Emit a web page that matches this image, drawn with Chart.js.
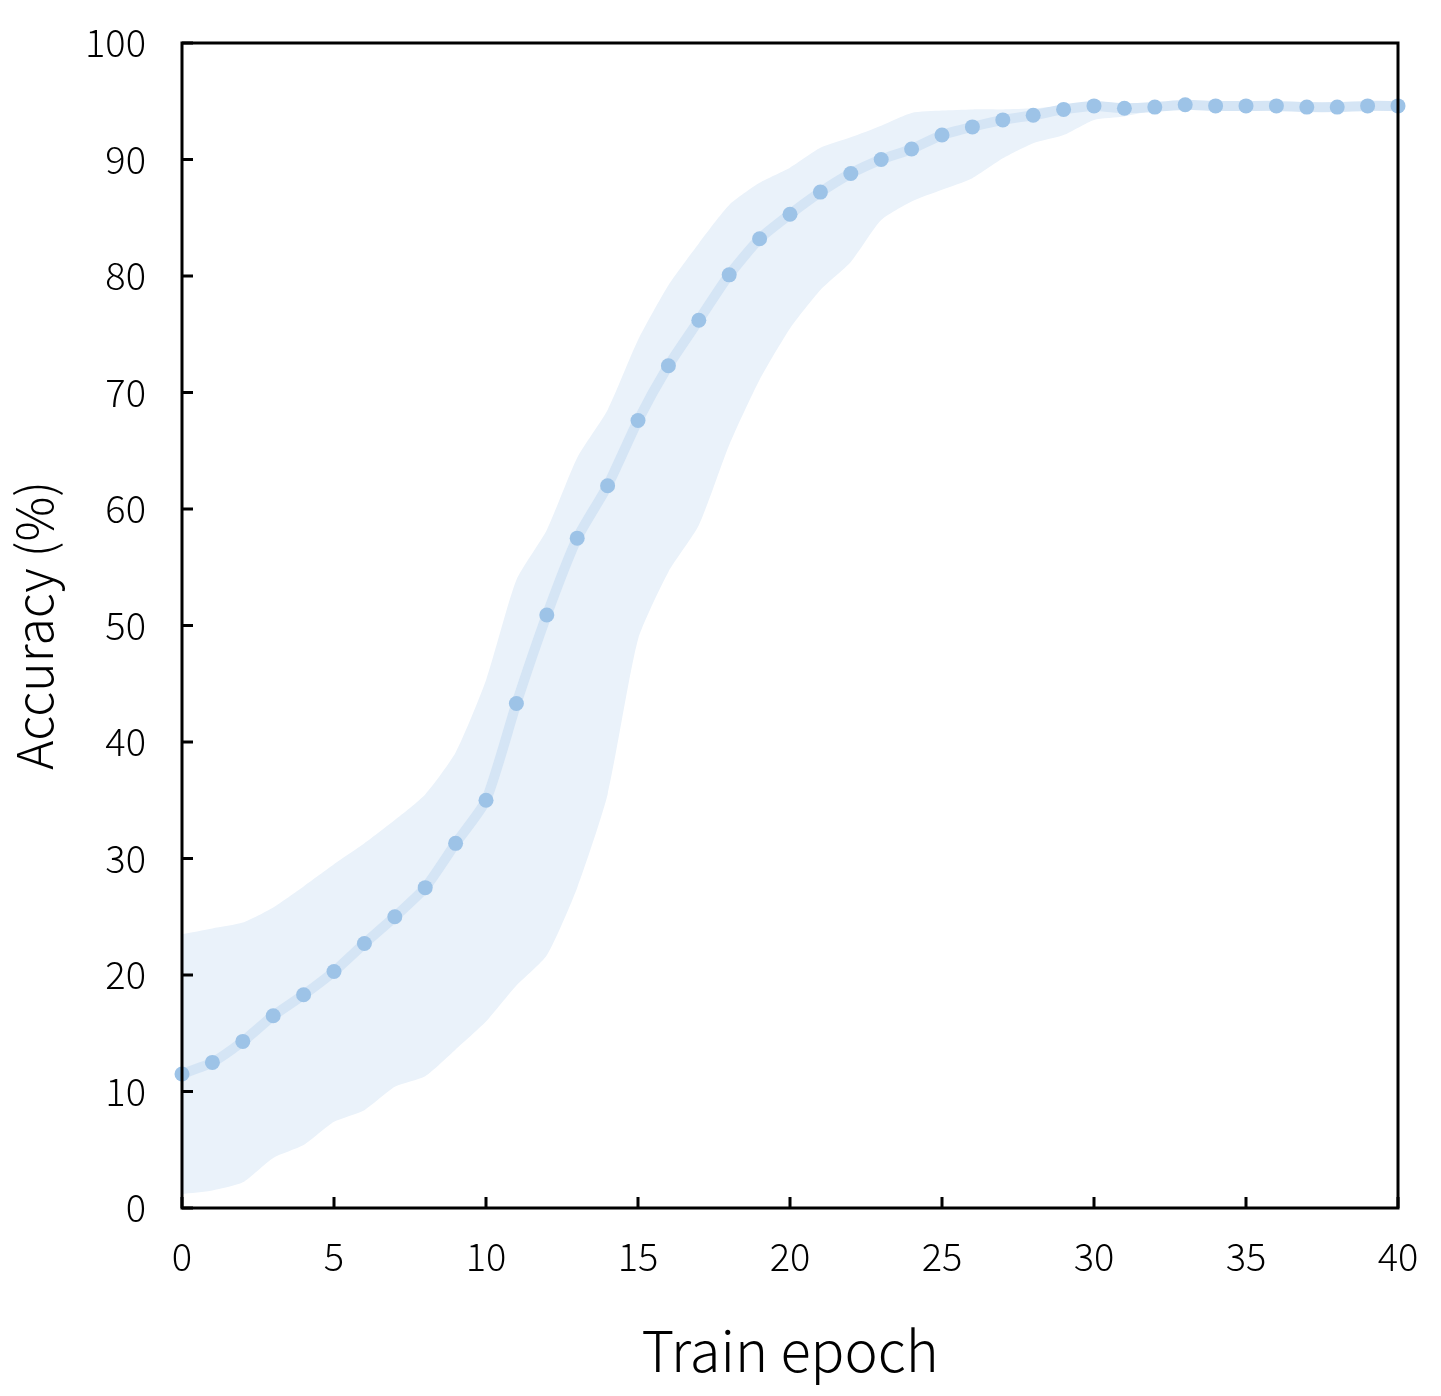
<!DOCTYPE html>
<html>
<head>
<meta charset="utf-8">
<script src="https://cdn.jsdelivr.net/npm/chart.js@4.4.1/dist/chart.umd.min.js"></script>
<style>
  html, body { margin: 0; padding: 0; background: #fff; }
  #wrap { width: 1441px; height: 1396px; }
</style>
</head>
<body>
<div id="wrap"><canvas id="accCanvas" width="1441" height="1396"></canvas></div>
<script>
// epochs and mean accuracy (%)
const epochs = [0,1,2,3,4,5,6,7,8,9,10,11,12,13,14,15,16,17,18,19,20,21,22,23,24,25,26,27,28,29,30,31,32,33,34,35,36,37,38,39,40];
const meanAcc = [11.5,12.5,14.3,16.5,18.3,20.3,22.7,25.0,27.5,31.3,35.0,43.3,50.9,57.5,62.0,67.6,72.3,76.2,80.1,83.2,85.3,87.2,88.8,90.0,90.9,92.1,92.8,93.4,93.8,94.3,94.6,94.4,94.5,94.7,94.6,94.6,94.6,94.5,94.5,94.6,94.6];
// upper / lower edges of the shaded band
const upperAcc = [23.5,24.0,24.5,25.8,27.6,29.5,31.3,33.3,35.5,39.1,45.3,53.9,58.2,64.4,68.5,74.5,79.2,82.8,86.1,88.0,89.3,91.0,91.9,92.9,94.0,94.2,94.3,94.3,94.4,94.6,94.8,94.8,94.8,94.9,94.9,94.9,94.9,94.8,94.8,94.9,94.9];
const lowerAcc = [1.2,1.5,2.2,4.3,5.4,7.4,8.4,10.4,11.3,13.6,16.0,19.1,21.7,27.5,35.5,48.8,54.6,58.6,65.5,71.1,75.5,78.8,81.2,84.8,86.4,87.4,88.4,90.1,91.4,92.1,93.4,93.7,94.2,94.3,94.3,94.2,94.2,94.2,94.2,94.2,94.2];
const xTicks = [0,5,10,15,20,25,30,35,40];
const yTicks = [0,10,20,30,40,50,60,70,80,90,100];

const fontFamily = "'Noto Sans CJK SC', 'Noto Sans', sans-serif";
const toPoints = (vals) => vals.map((v, i) => ({ x: epochs[i], y: v }));

// box around the plot and inward ticks
const frameTicks = {
  id: "frameTicks",
  afterDraw(chart) {
    const { ctx, chartArea: a, scales } = chart;
    ctx.save();
    ctx.strokeStyle = "#000";
    ctx.lineWidth = 3;
    ctx.strokeRect(a.left, a.top, a.right - a.left, a.bottom - a.top);
    ctx.beginPath();
    xTicks.forEach((t) => {
      const px = scales.x.getPixelForValue(t);
      ctx.moveTo(px, a.bottom);
      ctx.lineTo(px, a.bottom - 11);
    });
    yTicks.forEach((t) => {
      const py = scales.y.getPixelForValue(t);
      ctx.moveTo(a.left, py);
      ctx.lineTo(a.left + 11, py);
    });
    ctx.stroke();
    ctx.restore();
  },
};

new Chart(document.getElementById("accCanvas"), {
  type: "line",
  data: {
    datasets: [
      {
        label: "mean",
        data: toPoints(meanAcc),
        borderColor: "#d5e5f5",
        borderWidth: 10,
        tension: 0.2,
        pointRadius: 7.5,
        pointBackgroundColor: "#9dc3e7",
        pointBorderWidth: 0,
        fill: false,
        order: 0,
      },
      {
        label: "upper",
        data: toPoints(upperAcc),
        borderWidth: 0,
        pointRadius: 0,
        tension: 0.2,
        backgroundColor: "#eaf2fa",
        fill: "+1",
        order: 1,
      },
      {
        label: "lower",
        data: toPoints(lowerAcc),
        borderWidth: 0,
        pointRadius: 0,
        tension: 0.2,
        fill: false,
        order: 2,
      },
    ],
  },
  options: {
    responsive: false,
    animation: false,
    clip: false,
    layout: { padding: { top: 43, right: 43, left: 0, bottom: 0 } },
    plugins: { legend: { display: false }, tooltip: { enabled: false } },
    scales: {
      x: {
        type: "linear",
        min: 0,
        max: 40,
        afterFit: (s) => { s.height = 188; s.paddingLeft = 0; s.paddingRight = 0; },
        afterBuildTicks: (s) => { s.ticks = xTicks.map((v) => ({ value: v })); },
        grid: { display: false, drawTicks: false },
        border: { display: false },
        ticks: { color: "#000", padding: 26, font: { family: fontFamily, size: 38, weight: 300 } },
        title: {
          display: true,
          text: "Train epoch",
          color: "#000",
          padding: { top: 2, bottom: 12 },
          font: { family: fontFamily, size: 56, weight: 300 },
        },
      },
      y: {
        min: 0,
        max: 100,
        afterFit: (s) => { s.width = 182; s.paddingTop = 0; s.paddingBottom = 0; },
        afterBuildTicks: (s) => { s.ticks = yTicks.map((v) => ({ value: v })); },
        grid: { display: false, drawTicks: false },
        border: { display: false },
        ticks: { color: "#000", padding: 36, font: { family: fontFamily, size: 38, weight: 300 } },
        title: {
          display: true,
          text: "Accuracy (%)",
          color: "#000",
          padding: { bottom: 0 },
          font: { family: fontFamily, size: 50, weight: 300 },
        },
      },
    },
  },
  plugins: [frameTicks],
});
</script>
</body>
</html>
